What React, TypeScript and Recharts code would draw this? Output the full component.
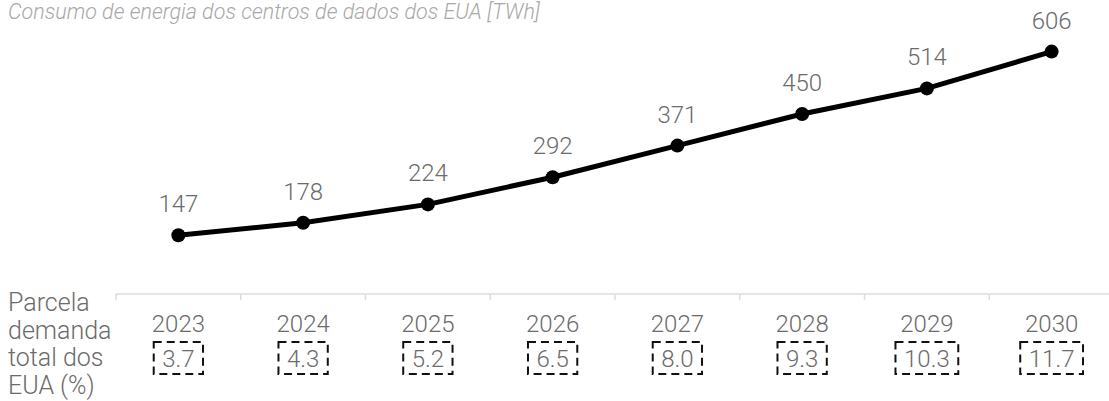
import { LineChart, Line, XAxis, YAxis, LabelList } from "recharts";

const years = ["2023", "2024", "2025", "2026", "2027", "2028", "2029", "2030"];
const consumption = [147, 178, 224, 292, 371, 450, 514, 606];
const demandShare = ["3.7", "4.3", "5.2", "6.5", "8.0", "9.3", "10.3", "11.7"];

const data = years.map((year, i) => ({
  year,
  twh: consumption[i],
  share: demandShare[i],
}));

const FONT = "Roboto, 'Noto Sans', sans-serif";
const GREY = "#6b6b6b";
const CHART_W = 1114;
const LEFT = 116;
const BAND = (CHART_W - LEFT) / years.length;

function YearTick(props: any) {
  const { x, y, index } = props;
  const share = demandShare[index];
  // rough text width for the dashed box
  const textW = share.split("").reduce((s, c) => s + (c === "." ? 6.3 : 13.5), 0);
  const boxW = textW + 16;
  const boxH = 32;
  const boxY = y + 48;
  return (
    <g>
      <line x1={x - BAND / 2} x2={x - BAND / 2} y1={y} y2={y + 6} stroke="#dcdcdc" strokeWidth={1.5} />
      {index === years.length - 1 && (
        <line x1={x + BAND / 2} x2={x + BAND / 2} y1={y} y2={y + 6} stroke="#dcdcdc" strokeWidth={1.5} />
      )}
      <text x={x} y={y + 37.5} textAnchor="middle" fill={GREY} fontSize={24} fontWeight={300} fontFamily={FONT}>
        {years[index]}
      </text>
      <rect
        x={x - boxW / 2}
        y={boxY}
        width={boxW}
        height={boxH}
        fill="none"
        stroke="#111"
        strokeWidth={2}
        strokeDasharray="8 5"
      />
      <text x={x} y={boxY + boxH / 2 + 8.5} textAnchor="middle" fill={GREY} fontSize={24} fontWeight={300} fontFamily={FONT}>
        {share}
      </text>
    </g>
  );
}

export default function App() {
  return (
    <div style={{ position: "absolute", left: 0, top: 0, width: 1109, height: 401, overflow: "hidden", fontFamily: FONT }}>
      <div
        style={{
          position: "absolute",
          left: 8,
          top: 0,
          fontSize: 21.5,
          lineHeight: "24px",
          fontStyle: "italic",
          fontWeight: 300,
          color: "#a8a8a8",
          whiteSpace: "nowrap",
        }}
      >
        Consumo de energia dos centros de dados dos EUA [TWh]
      </div>
      <div
        style={{
          position: "absolute",
          left: 8,
          top: 289,
          fontSize: 25,
          lineHeight: "27.5px",
          fontWeight: 300,
          color: GREY,
          width: 112,
        }}
      >
        Parcela demanda total dos EUA (%)
      </div>
      <LineChart
        width={CHART_W}
        height={401}
        data={data}
        margin={{ top: 34, right: 0, left: LEFT, bottom: 0 }}
      >
        <XAxis
          dataKey="year"
          axisLine={{ stroke: "#dcdcdc", strokeWidth: 1.5 }}
          tickLine={false}
          tickSize={0}
          tickMargin={0}
          interval={0}
          padding={{ left: BAND / 2, right: BAND / 2 }}
          tick={<YearTick />}
          height={107}
        />
        <YAxis hide domain={[0, 650]} />
        <Line
          type="linear"
          dataKey="twh"
          stroke="#000"
          strokeWidth={5}
          dot={{ r: 7, fill: "#000", stroke: "#000", strokeWidth: 0 }}
          isAnimationActive={false}
        >
          <LabelList
            dataKey="twh"
            position="top"
            offset={23}
            fill={GREY}
            fontSize={24}
            fontWeight={300}
            fontFamily={FONT}
          />
        </Line>
      </LineChart>
    </div>
  );
}
